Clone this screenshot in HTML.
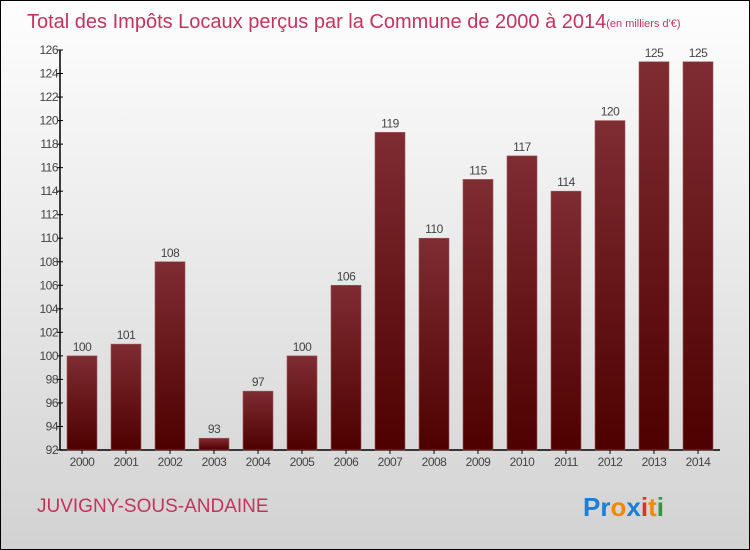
<!DOCTYPE html>
<html><head><meta charset="utf-8"><style>
body{margin:0}
#c{position:relative;width:748px;height:548px;border:1px solid #000;background:linear-gradient(#fefefe,#d2d2d2);font-family:"Liberation Sans",sans-serif;overflow:hidden}
</style></head><body>
<div id="c">
<svg id="s" width="748" height="548" style="position:absolute;left:0;top:0">
<defs>
<linearGradient id="bg" x1="0" y1="0" x2="0" y2="1"><stop offset="0" stop-color="#7f2c32"/><stop offset="1" stop-color="#4e0000"/></linearGradient>
</defs>
<text x="26" y="27" font-size="20" fill="#c5325e">Total des Impôts Locaux perçus par la Commune de 2000 à 2014<tspan font-size="11" dy="-1">(en milliers d'€)</tspan></text>
<text x="36" y="511" font-size="19" fill="#c5325e">JUVIGNY-SOUS-ANDAINE</text>
<text x="582" y="515" font-size="26" font-weight="bold"><tspan fill="#1a7fd6">Pr</tspan><tspan fill="#f08a00">o</tspan><tspan fill="#1a7fd6">x</tspan><tspan fill="#e03020">i</tspan><tspan fill="#f08a00">t</tspan><tspan fill="#2a9a3a">i</tspan></text>
<g id="g"></g>
</svg>
</div>
<script>
const categories=["2000","2001","2002","2003","2004","2005","2006","2007","2008","2009","2010","2011","2012","2013","2014"];
const values=[100,101,108,93,97,100,106,119,110,115,117,114,120,125,125];
const yTicks=[92,94,96,98,100,102,104,106,108,110,112,114,116,118,120,122,124,126];
const ns="http://www.w3.org/2000/svg";
const g=document.getElementById('g');
const x0=59,step=44,yMin=92,yMax=126,yTop=49,yBot=449;
const y=v=>yBot-(v-yMin)/(yMax-yMin)*(yBot-yTop);
const cx=i=>x0+step*i+step/2;
function mk(t,a){const e=document.createElementNS(ns,t);for(const k in a)e.setAttribute(k,a[k]);g.appendChild(e);return e;}
let e;
e=mk('line',{x1:x0,y1:yTop,x2:x0,y2:yBot,stroke:'#000','stroke-width':1.5});


e=mk('line',{x1:x0,y1:yBot,x2:x0+step*categories.length,y2:yBot,stroke:'#000','stroke-width':1.5});


yTicks.forEach(t=>{
 e=mk('line',{x1:x0-3,y1:y(t),x2:x0+3,y2:y(t),stroke:'#000'});
 
 
 e=mk('text',{x:x0-2,y:y(t)+4,'font-size':12,'text-anchor':'end',fill:'#444','letter-spacing':'-0.5'});
 e.textContent=t;
 
 
});
categories.forEach((c,i)=>{
 const v=values[i];
 e=mk('rect',{x:cx(i)-15,y:y(v),width:30,height:yBot-y(v),fill:'url(#bg)',stroke:'#9a5a5e','stroke-width':0.6});
 
 
 e=mk('text',{x:cx(i),y:y(v)-5,'font-size':12,'text-anchor':'middle',fill:'#444','letter-spacing':'-0.5'});
 e.textContent=v;
 
 
 e=mk('line',{x1:cx(i),y1:yBot,x2:cx(i),y2:yBot+4,stroke:'#000'});
 
 
 e=mk('text',{x:cx(i),y:yBot+16,'font-size':12,'text-anchor':'middle',fill:'#444','letter-spacing':'-0.5'});
 e.textContent=c;
 
 
});
</script>
</body></html>
